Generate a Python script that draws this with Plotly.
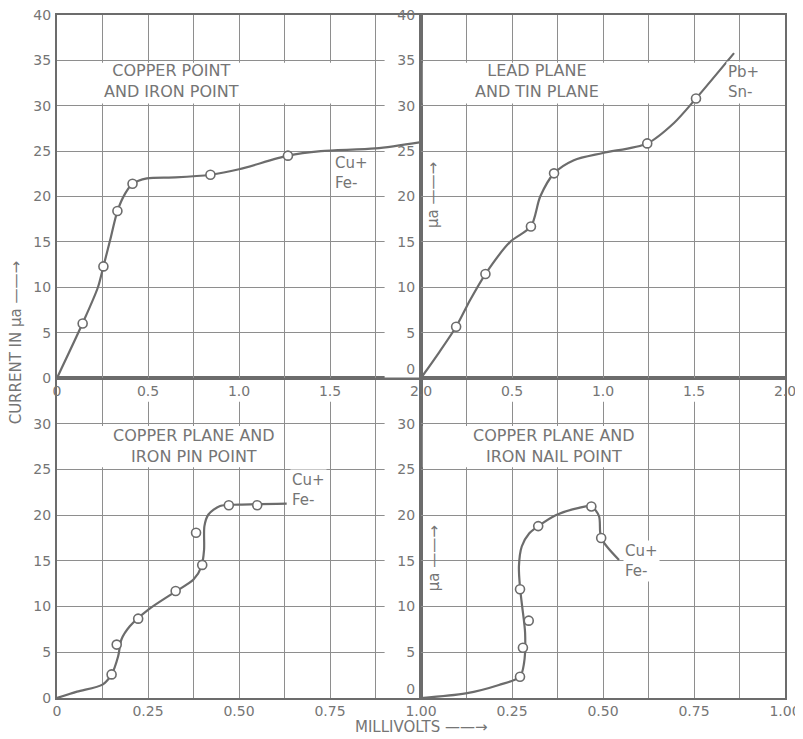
import plotly.graph_objects as go

# ---------------- data (millivolts, microamperes) ----------------
# Top-left: copper point and iron point
tl_curve_mv = [0, 0.14, 0.225, 0.255, 0.292, 0.332, 0.375, 0.415, 0.494, 0.65, 0.843, 1.0, 1.269, 1.45, 1.75, 2.0]
tl_curve_ua = [0, 6.0, 10.0, 12.3, 15.2, 18.4, 20.35, 21.4, 22.0, 22.1, 22.4, 23.0, 24.5, 25.0, 25.3, 26.0]
tl_pts_mv = [0.141, 0.255, 0.332, 0.415, 0.843, 1.269]
tl_pts_ua = [6.0, 12.3, 18.4, 21.4, 22.4, 24.5]

# Top-right: lead plane and tin plane
tr_curve_mv = [0, 0.095, 0.193, 0.27, 0.354, 0.49, 0.604, 0.655, 0.731, 0.84, 1.0, 1.243, 1.39, 1.511, 1.72]
tr_curve_ua = [0, 2.7, 5.65, 8.6, 11.46, 15.0, 16.7, 20.0, 22.55, 24.0, 24.8, 25.85, 28.1, 30.8, 35.8]
tr_pts_mv = [0.193, 0.354, 0.604, 0.731, 1.243, 1.511]
tr_pts_ua = [5.65, 11.46, 16.7, 22.55, 25.85, 30.8]

# Bottom-left: copper plane and iron pin point
bl_curve_mv = [0, 0.055, 0.125, 0.15, 0.168, 0.177, 0.20, 0.251, 0.32, 0.375, 0.397, 0.404, 0.405, 0.416, 0.448, 0.50, 0.631]
bl_curve_ua = [0, 0.7, 1.46, 2.58, 4.56, 6.4, 7.84, 9.67, 11.5, 12.95, 14.4, 16.2, 18.8, 20.07, 21.0, 21.15, 21.27]
bl_pts_mv = [0.150, 0.164, 0.223, 0.326, 0.382, 0.399, 0.472, 0.550]
bl_pts_ua = [2.58, 5.84, 8.68, 11.7, 18.07, 14.56, 21.09, 21.09]

# Bottom-right: copper plane and iron nail point
br_curve_mv = [0, 0.123, 0.214, 0.272, 0.283, 0.286, 0.278, 0.272, 0.269, 0.277, 0.297, 0.322, 0.37, 0.434, 0.468, 0.489, 0.495, 0.544]
br_curve_ua = [0, 0.5, 1.42, 2.33, 3.8, 7.1, 10.0, 12.1, 14.4, 16.6, 18.0, 18.8, 20.0, 20.8, 20.95, 19.9, 17.5, 15.1]
br_pts_mv = [0.272, 0.280, 0.296, 0.272, 0.322, 0.468, 0.495]
br_pts_ua = [2.33, 5.5, 8.46, 11.9, 18.8, 20.95, 17.5]

top_x_ticks = [0, 0.5, 1.0, 1.5, 2.0]
top_x_text = ["0", "0.5", "1.0", "1.5", "2.0"]
bot_x_ticks = [0, 0.25, 0.50, 0.75, 1.00]
bot_x_text = ["0", "0.25", "0.50", "0.75", "1.00"]
top_y_ticks = [0, 5, 10, 15, 20, 25, 30, 35, 40]
bot_y_ticks = [0, 5, 10, 15, 20, 25, 30]

titles = {
    "tl": "COPPER POINT<br>AND IRON POINT",
    "tr": "LEAD PLANE<br>AND TIN PLANE",
    "bl": "COPPER PLANE AND<br>IRON PIN POINT",
    "br": "COPPER PLANE AND<br>IRON NAIL POINT",
}

# ---------------- styling ----------------
INK = "#6c6c6c"
TXT = "#757575"
GRID = "#8e8e8e"
FONT = "DejaVu Sans"
TOP0 = 0.4685
ARROW = "\u2014\u2014\u2192"

fig = go.Figure()

# subplot order: bottom panels first so the top panels' labels draw over their grid
panels = [
    (bl_curve_mv, bl_curve_ua, bl_pts_mv, bl_pts_ua, "x", "y"),
    (br_curve_mv, br_curve_ua, br_pts_mv, br_pts_ua, "x2", "y2"),
    (tl_curve_mv, tl_curve_ua, tl_pts_mv, tl_pts_ua, "x3", "y3"),
    (tr_curve_mv, tr_curve_ua, tr_pts_mv, tr_pts_ua, "x4", "y4"),
]
for cx, cy, px, py, xa, ya in panels:
    fig.add_trace(go.Scatter(x=cx, y=cy, mode="lines", xaxis=xa, yaxis=ya,
                             line=dict(color=INK, width=2.2, shape="spline", smoothing=0.8),
                             hoverinfo="skip", showlegend=False))
    fig.add_trace(go.Scatter(x=px, y=py, mode="markers", xaxis=xa, yaxis=ya,
                             marker=dict(symbol="circle", size=9, color="white",
                                         line=dict(color=INK, width=1.6)),
                             showlegend=False))

tickfont = dict(family=FONT, size=14, color=TXT)


def xax(domain, rng, tv, tt, minor_dtick, anchor):
    return dict(domain=domain, range=rng, anchor=anchor, tickmode="array",
                tickvals=tv, ticktext=tt, ticks="", showgrid=True,
                gridcolor=GRID, gridwidth=1.3, zeroline=False,
                showline=True, mirror=True, linecolor=INK, linewidth=2,
                tickfont=tickfont, automargin=False, ticklabelstandoff=-1,
                ticklabeloverflow="allow",
                minor=dict(tickmode="linear", tick0=0, dtick=minor_dtick,
                           showgrid=True, gridcolor=GRID, gridwidth=1.3, ticks=""))


def yax(domain, rng, tv, anchor, lift_zero=False):
    tt = [str(v) for v in tv]
    if lift_zero:
        # the "0" of the inner axes sits a little above the corner in the original
        tt[0] = "0<br>\u00a0"
    return dict(domain=domain, range=rng, anchor=anchor, tickmode="array",
                tickvals=tv, ticktext=tt, ticks="",
                showgrid=True, gridcolor=GRID, gridwidth=1.3, zeroline=False,
                showline=True, mirror=True, linecolor=INK, linewidth=2,
                tickfont=tickfont, automargin=False, ticklabelstandoff=1,
                ticklabeloverflow="allow")


shapes = []
WHITE = dict(type="rect", fillcolor="white", line=dict(width=0), layer="between")

# title bands
shapes.append(dict(WHITE, xref="x3", yref="y3", x0=0.01, x1=1.72, y0=30.25, y1=34.75))
shapes.append(dict(WHITE, xref="x4", yref="y4", x0=0.01, x1=1.99, y0=30.25, y1=34.75))
shapes.append(dict(WHITE, xref="x", yref="y", x0=0.005, x1=0.615, y0=25.25, y1=29.75))
shapes.append(dict(WHITE, xref="x2", yref="y2", x0=0.005, x1=0.615, y0=25.25, y1=29.75))

# gaps in the grid behind tick labels that sit inside neighbouring panels
for v in top_y_ticks:
    shapes.append(dict(WHITE, xref="x3", yref="y3", x0=1.80, x1=1.995,
                       y0=max(v - 1.3, 0.05), y1=min(v + 1.3, 39.95)))
for v in bot_y_ticks:
    shapes.append(dict(WHITE, xref="x", yref="y", x0=0.90, x1=0.997,
                       y0=max(v - 1.35, 0.05), y1=v + 1.35))
for t in top_x_ticks[1:4]:
    shapes.append(dict(WHITE, xref="x", yref="y", x0=t / 2 - 0.045, x1=t / 2 + 0.045,
                       y0=32.4, y1=34.9))
for t in top_x_ticks[1:4]:
    shapes.append(dict(WHITE, xref="x2", yref="y2", x0=t / 2 - 0.045, x1=t / 2 + 0.045,
                       y0=32.4, y1=34.9))

tfont = dict(family=FONT, size=16, color=TXT)
sfont = dict(family=FONT, size=15, color=TXT)
annotations = [
    dict(xref="x3", yref="y3", x=0.63, y=32.7, text=titles["tl"], showarrow=False, font=tfont),
    dict(xref="x4", yref="y4", x=0.635, y=32.7, text=titles["tr"], showarrow=False, font=tfont),
    dict(xref="x", yref="y", x=0.375, y=27.55, text=titles["bl"], showarrow=False, font=tfont),
    dict(xref="x2", yref="y2", x=0.365, y=27.55, text=titles["br"], showarrow=False, font=tfont),
    dict(xref="x3", yref="y3", x=1.62, y=22.6, text="Cu+<br>Fe-", showarrow=False,
         font=sfont, align="left", bgcolor="white", borderpad=1),
    dict(xref="x4", yref="y4", x=1.77, y=32.6, text="Pb+<br>Sn-", showarrow=False,
         font=sfont, align="left", bgcolor="white", borderpad=1),
    dict(xref="x", yref="y", x=0.69, y=22.7, text="Cu+<br>Fe-", showarrow=False,
         font=sfont, align="left", bgcolor="white", borderpad=1),
    dict(xref="x2", yref="y2", x=0.607, y=15.0, text="Cu+<br>Fe-", showarrow=False,
         font=sfont, align="left", bgcolor="white", borderpad=1),
    dict(xref="x4", yref="y4", x=0.062, y=20.2, text="μa " + ARROW, textangle=-90,
         showarrow=False, font=sfont),
    dict(xref="x2", yref="y2", x=0.036, y=15.3, text="μa " + ARROW, textangle=-90,
         showarrow=False, font=sfont),
    dict(xref="paper", yref="paper", x=-0.057, y=0.52, text="CURRENT IN μa " + ARROW,
         textangle=-90, showarrow=False, font=sfont, xanchor="center", yanchor="middle"),
    dict(xref="paper", yref="paper", x=0.5, y=-0.043, text="MILLIVOLTS " + ARROW,
         showarrow=False, font=sfont, xanchor="center", yanchor="middle"),
]

# the page body adds an 8 px offset, so margins are trimmed on the top/left
fig.update_layout(
    width=803, height=739,
    margin=dict(l=49, r=26, t=7, b=49, autoexpand=False),
    paper_bgcolor="white", plot_bgcolor="rgba(0,0,0,0)",
    showlegend=False,
    xaxis=xax([0, 0.5], [0, 1], bot_x_ticks, bot_x_text, 0.125, "y"),
    yaxis=yax([0, TOP0], [0, 35], bot_y_ticks, "x"),
    xaxis2=xax([0.5, 1], [0, 1], bot_x_ticks[1:], bot_x_text[1:], 0.125, "y2"),
    yaxis2=yax([0, TOP0], [0, 35], bot_y_ticks, "x2", lift_zero=True),
    xaxis3=xax([0, 0.5], [0, 2], top_x_ticks, top_x_text, 0.25, "y3"),
    yaxis3=yax([TOP0, 1], [0, 40], top_y_ticks, "x3"),
    xaxis4=xax([0.5, 1], [0, 2], top_x_ticks[1:], top_x_text[1:], 0.25, "y4"),
    yaxis4=yax([TOP0, 1], [0, 40], top_y_ticks, "x4", lift_zero=True),
    shapes=shapes,
    annotations=annotations,
)

fig.write_html("out.html")
